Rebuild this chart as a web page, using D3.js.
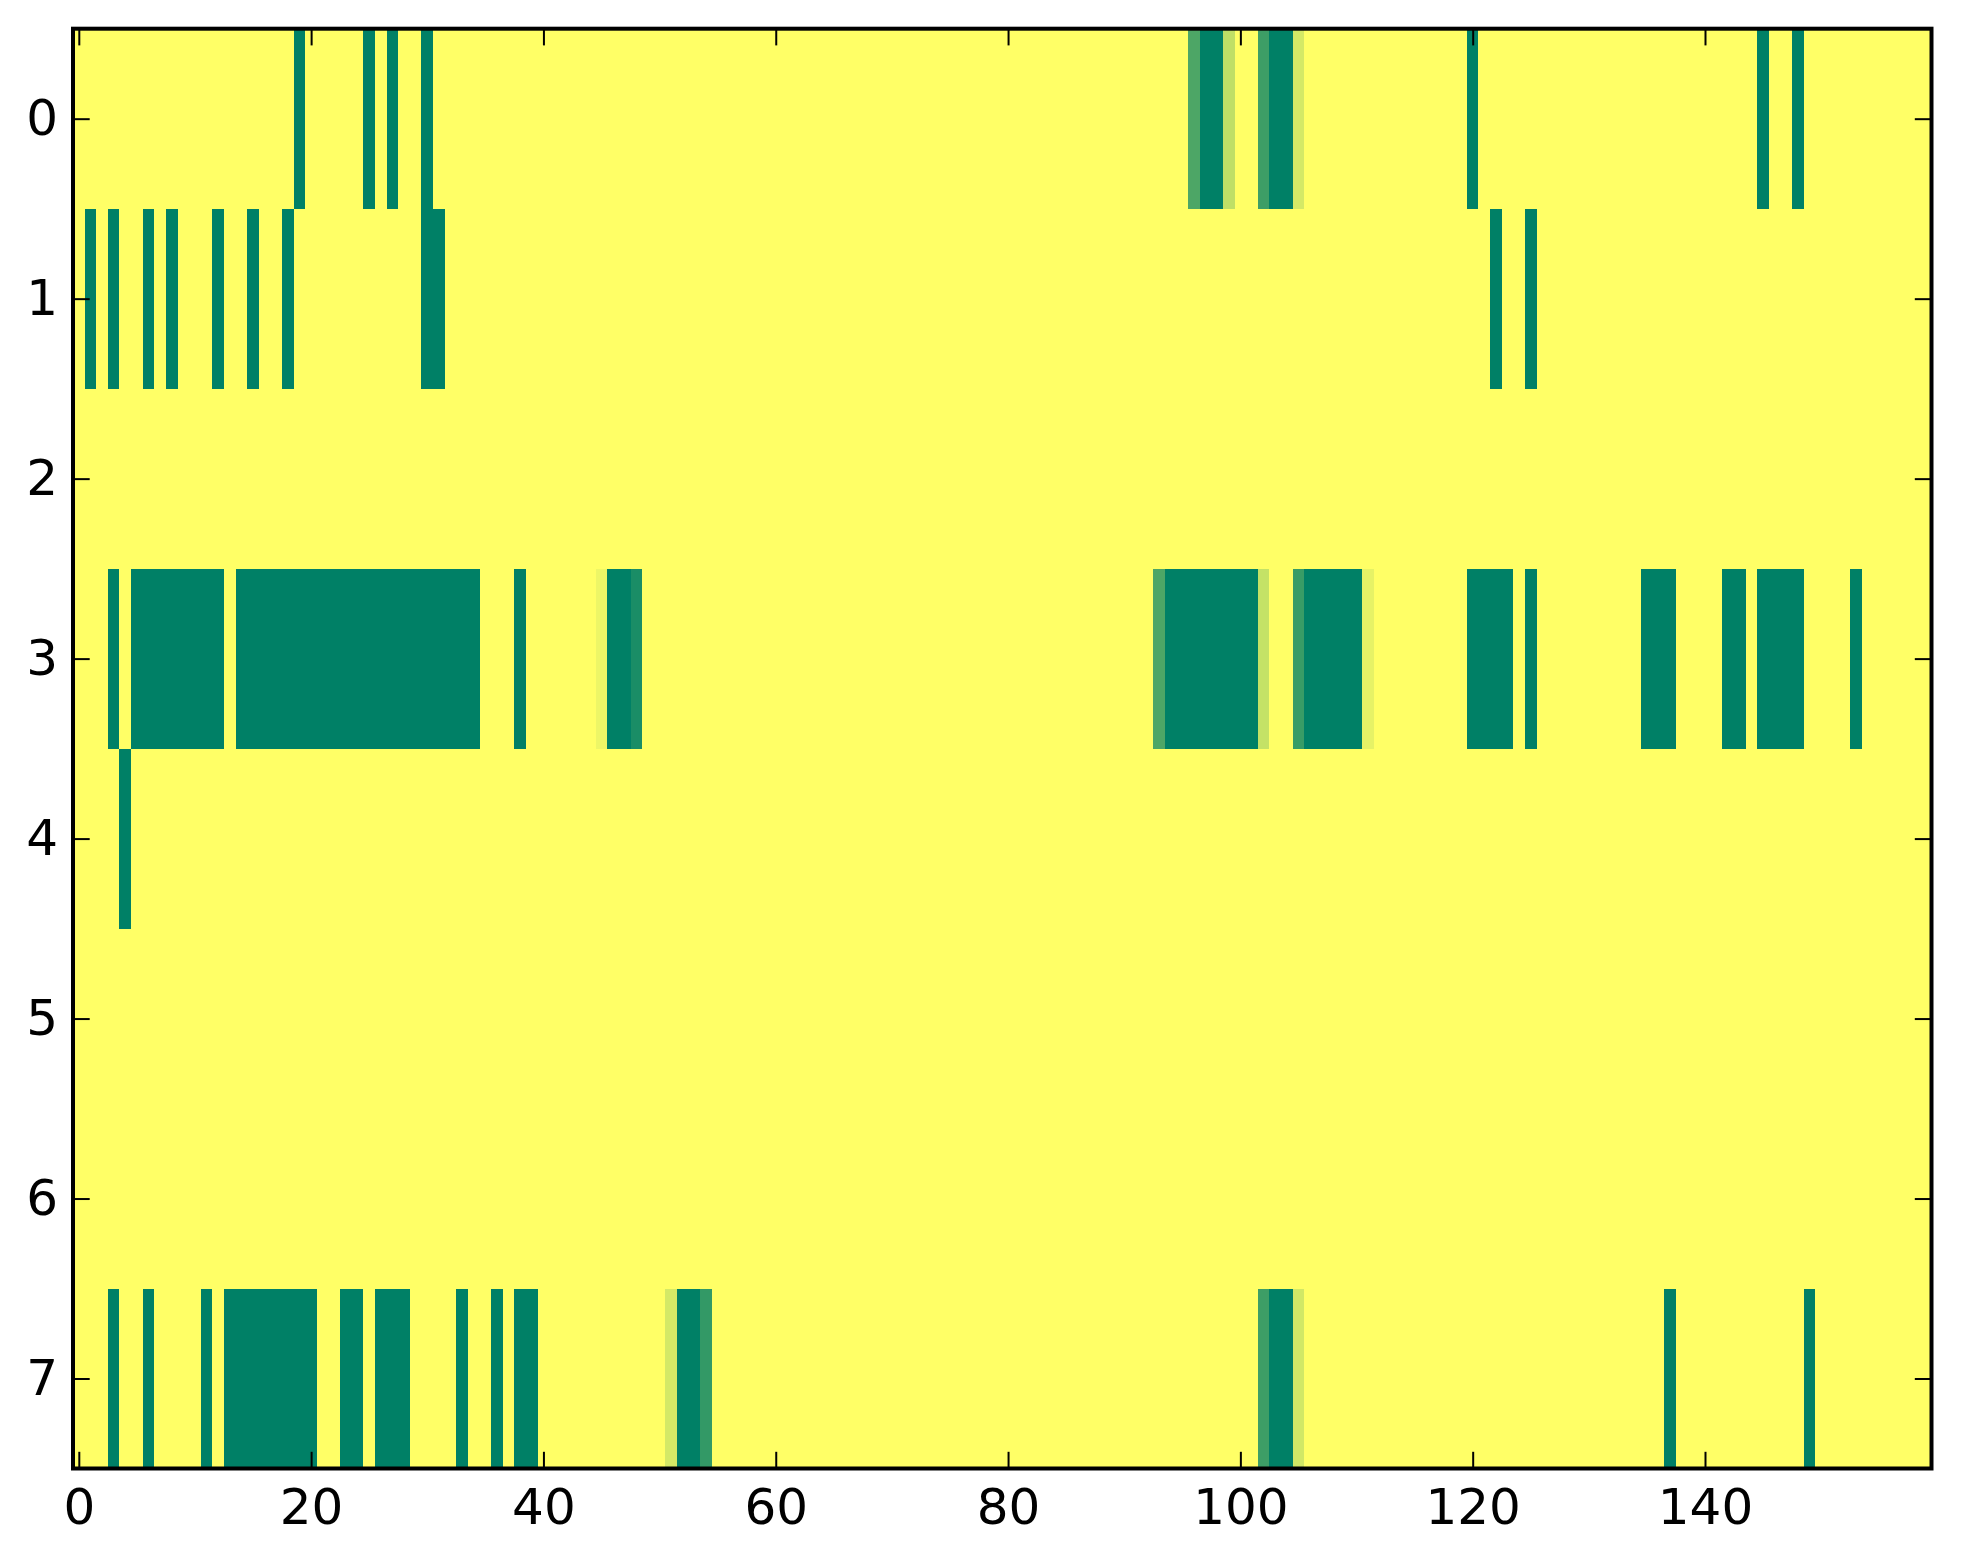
<!DOCTYPE html>
<html>
<head>
<meta charset="utf-8">
<script src="https://cdn.jsdelivr.net/npm/d3@7"></script>
<style>
  body { margin: 0; background: #fff; }
  svg { display: block; }
</style>
</head>
<body>
<svg></svg>
<script>
// Cell values per row (0 = dark green, 1 = yellow), 160 columns each
const row0 = [
  1,1,1,1,1,1,1,1,1,1, 1,1,1,1,1,1,1,1,1,0, 1,1,1,1,1,0,1,0,1,1, 0,1,1,1,1,1,1,1,1,1,
  1,1,1,1,1,1,1,1,1,1, 1,1,1,1,1,1,1,1,1,1, 1,1,1,1,1,1,1,1,1,1, 1,1,1,1,1,1,1,1,1,1,
  1,1,1,1,1,1,1,1,1,1, 1,1,1,1,1,1,0.3,0,0,0.75, 1,1,0.24,0,0,0.83,1,1,1,1, 1,1,1,1,1,1,1,1,1,1,
  0,1,1,1,1,1,1,1,1,1, 1,1,1,1,1,1,1,1,1,1, 1,1,1,1,1,0,1,1,0,1, 1,1,1,1,1,1,1,1,1,1
];
const row1 = [
  1,0,1,0,1,1,0,1,0,1, 1,1,0,1,1,0,1,1,0,1, 1,1,1,1,1,1,1,1,1,1, 0,0,1,1,1,1,1,1,1,1,
  1,1,1,1,1,1,1,1,1,1, 1,1,1,1,1,1,1,1,1,1, 1,1,1,1,1,1,1,1,1,1, 1,1,1,1,1,1,1,1,1,1,
  1,1,1,1,1,1,1,1,1,1, 1,1,1,1,1,1,1,1,1,1, 1,1,1,1,1,1,1,1,1,1, 1,1,1,1,1,1,1,1,1,1,
  1,1,0,1,1,0,1,1,1,1, 1,1,1,1,1,1,1,1,1,1, 1,1,1,1,1,1,1,1,1,1, 1,1,1,1,1,1,1,1,1,1
];
const row2 = [
  1,1,1,1,1,1,1,1,1,1, 1,1,1,1,1,1,1,1,1,1, 1,1,1,1,1,1,1,1,1,1, 1,1,1,1,1,1,1,1,1,1,
  1,1,1,1,1,1,1,1,1,1, 1,1,1,1,1,1,1,1,1,1, 1,1,1,1,1,1,1,1,1,1, 1,1,1,1,1,1,1,1,1,1,
  1,1,1,1,1,1,1,1,1,1, 1,1,1,1,1,1,1,1,1,1, 1,1,1,1,1,1,1,1,1,1, 1,1,1,1,1,1,1,1,1,1,
  1,1,1,1,1,1,1,1,1,1, 1,1,1,1,1,1,1,1,1,1, 1,1,1,1,1,1,1,1,1,1, 1,1,1,1,1,1,1,1,1,1
];
const row3 = [
  1,1,1,0,1,0,0,0,0,0, 0,0,0,1,0,0,0,0,0,0, 0,0,0,0,0,0,0,0,0,0, 0,0,0,0,0,1,1,1,0,1,
  1,1,1,1,1,0.93,0,0,0.1,1, 1,1,1,1,1,1,1,1,1,1, 1,1,1,1,1,1,1,1,1,1, 1,1,1,1,1,1,1,1,1,1,
  1,1,1,1,1,1,1,1,1,1, 1,1,1,0.3,0,0,0,0,0,0, 0,0,0.77,1,1,0.22,0,0,0,0, 0,0.9,1,1,1,1,1,1,1,1,
  0,0,0,0,1,0,1,1,1,1, 1,1,1,1,1,0,0,0,1,1, 1,1,0,0,1,0,0,0,0,1, 1,1,1,0,1,1,1,1,1,1
];
const row4 = [
  1,1,1,1,0,1,1,1,1,1, 1,1,1,1,1,1,1,1,1,1, 1,1,1,1,1,1,1,1,1,1, 1,1,1,1,1,1,1,1,1,1,
  1,1,1,1,1,1,1,1,1,1, 1,1,1,1,1,1,1,1,1,1, 1,1,1,1,1,1,1,1,1,1, 1,1,1,1,1,1,1,1,1,1,
  1,1,1,1,1,1,1,1,1,1, 1,1,1,1,1,1,1,1,1,1, 1,1,1,1,1,1,1,1,1,1, 1,1,1,1,1,1,1,1,1,1,
  1,1,1,1,1,1,1,1,1,1, 1,1,1,1,1,1,1,1,1,1, 1,1,1,1,1,1,1,1,1,1, 1,1,1,1,1,1,1,1,1,1
];
const row5 = [
  1,1,1,1,1,1,1,1,1,1, 1,1,1,1,1,1,1,1,1,1, 1,1,1,1,1,1,1,1,1,1, 1,1,1,1,1,1,1,1,1,1,
  1,1,1,1,1,1,1,1,1,1, 1,1,1,1,1,1,1,1,1,1, 1,1,1,1,1,1,1,1,1,1, 1,1,1,1,1,1,1,1,1,1,
  1,1,1,1,1,1,1,1,1,1, 1,1,1,1,1,1,1,1,1,1, 1,1,1,1,1,1,1,1,1,1, 1,1,1,1,1,1,1,1,1,1,
  1,1,1,1,1,1,1,1,1,1, 1,1,1,1,1,1,1,1,1,1, 1,1,1,1,1,1,1,1,1,1, 1,1,1,1,1,1,1,1,1,1
];
const row6 = [
  1,1,1,1,1,1,1,1,1,1, 1,1,1,1,1,1,1,1,1,1, 1,1,1,1,1,1,1,1,1,1, 1,1,1,1,1,1,1,1,1,1,
  1,1,1,1,1,1,1,1,1,1, 1,1,1,1,1,1,1,1,1,1, 1,1,1,1,1,1,1,1,1,1, 1,1,1,1,1,1,1,1,1,1,
  1,1,1,1,1,1,1,1,1,1, 1,1,1,1,1,1,1,1,1,1, 1,1,1,1,1,1,1,1,1,1, 1,1,1,1,1,1,1,1,1,1,
  1,1,1,1,1,1,1,1,1,1, 1,1,1,1,1,1,1,1,1,1, 1,1,1,1,1,1,1,1,1,1, 1,1,1,1,1,1,1,1,1,1
];
const row7 = [
  1,1,1,0,1,1,0,1,1,1, 1,0,1,0,0,0,0,0,0,0, 0,1,1,0,0,1,0,0,0,1, 1,1,1,0,1,1,0,1,0,0,
  1,1,1,1,1,1,1,1,1,1, 1,0.83,0,0,0.2,1,1,1,1,1, 1,1,1,1,1,1,1,1,1,1, 1,1,1,1,1,1,1,1,1,1,
  1,1,1,1,1,1,1,1,1,1, 1,1,1,1,1,1,1,1,1,1, 1,1,0.24,0,0,0.82,1,1,1,1, 1,1,1,1,1,1,1,1,1,1,
  1,1,1,1,1,1,1,1,1,1, 1,1,1,1,1,1,1,0,1,1, 1,1,1,1,1,1,1,1,1,0, 1,1,1,1,1,1,1,1,1,1
];
const rows = [row0, row1, row2, row3, row4, row5, row6, row7];

const xTicks = [0, 20, 40, 60, 80, 100, 120, 140];
const yTicks = [0, 1, 2, 3, 4, 5, 6, 7];

const width = 1963;
const height = 1564;
const plotLeft = 73, plotRight = 1931.5, plotTop = 28.7, plotBottom = 1468.5;
const tickLen = 16.7;

const svg = d3.select("svg")
    .attr("width", width)
    .attr("height", height);

const x = d3.scaleLinear().domain([-0.5, row0.length - 0.5]).range([plotLeft, plotRight]);
const y = d3.scaleLinear().domain([-0.5, rows.length - 0.5]).range([plotTop, plotBottom]);

// matplotlib "summer" colormap: (0, 0.5, 0.4) -> (1, 1, 0.4)
const color = d3.scaleLinear().domain([0, 1]).range(["#008066", "#ffff66"]).interpolate(d3.interpolateRgb);

// cells
const cells = [];
rows.forEach((r, ri) => r.forEach((v, ci) => cells.push({ row: ri, col: ci, v: v })));

svg.append("g")
    .attr("shape-rendering", "crispEdges")
  .selectAll("rect")
  .data(cells)
  .enter()
  .append("rect")
    .attr("x", d => x(d.col - 0.5))
    .attr("y", d => y(d.row - 0.5))
    .attr("width", d => x(d.col + 0.5) - x(d.col - 0.5) + 0.3)
    .attr("height", d => y(d.row + 0.5) - y(d.row - 0.5) + 0.3)
    .attr("fill", d => color(d.v));

// axes with inward ticks on all four sides
function styleAxis(g) {
  g.attr("font-family", "DejaVu Sans").attr("font-size", 50);
  g.select(".domain").remove();
  g.selectAll(".tick line").attr("stroke", "#000").attr("stroke-width", 2);
  g.selectAll(".tick text").attr("fill", "#000");
}

svg.append("g")
    .attr("transform", `translate(0,${plotBottom})`)
    .call(d3.axisBottom(x).tickValues(xTicks).tickSizeInner(-tickLen).tickSizeOuter(0).tickPadding(20))
    .call(styleAxis);

svg.append("g")
    .attr("transform", `translate(0,${plotTop})`)
    .call(d3.axisTop(x).tickValues(xTicks).tickSizeInner(-tickLen).tickSizeOuter(0).tickFormat(""))
    .call(styleAxis);

svg.append("g")
    .attr("transform", `translate(${plotLeft},0)`)
    .call(d3.axisLeft(y).tickValues(yTicks).tickSizeInner(-tickLen).tickSizeOuter(0).tickPadding(15))
    .call(styleAxis);

svg.append("g")
    .attr("transform", `translate(${plotRight},0)`)
    .call(d3.axisRight(y).tickValues(yTicks).tickSizeInner(-tickLen).tickSizeOuter(0).tickFormat(""))
    .call(styleAxis);

// frame
svg.append("rect")
    .attr("x", plotLeft)
    .attr("y", plotTop)
    .attr("width", plotRight - plotLeft)
    .attr("height", plotBottom - plotTop)
    .attr("fill", "none")
    .attr("stroke", "#000")
    .attr("stroke-width", 4);
</script>
</body>
</html>
